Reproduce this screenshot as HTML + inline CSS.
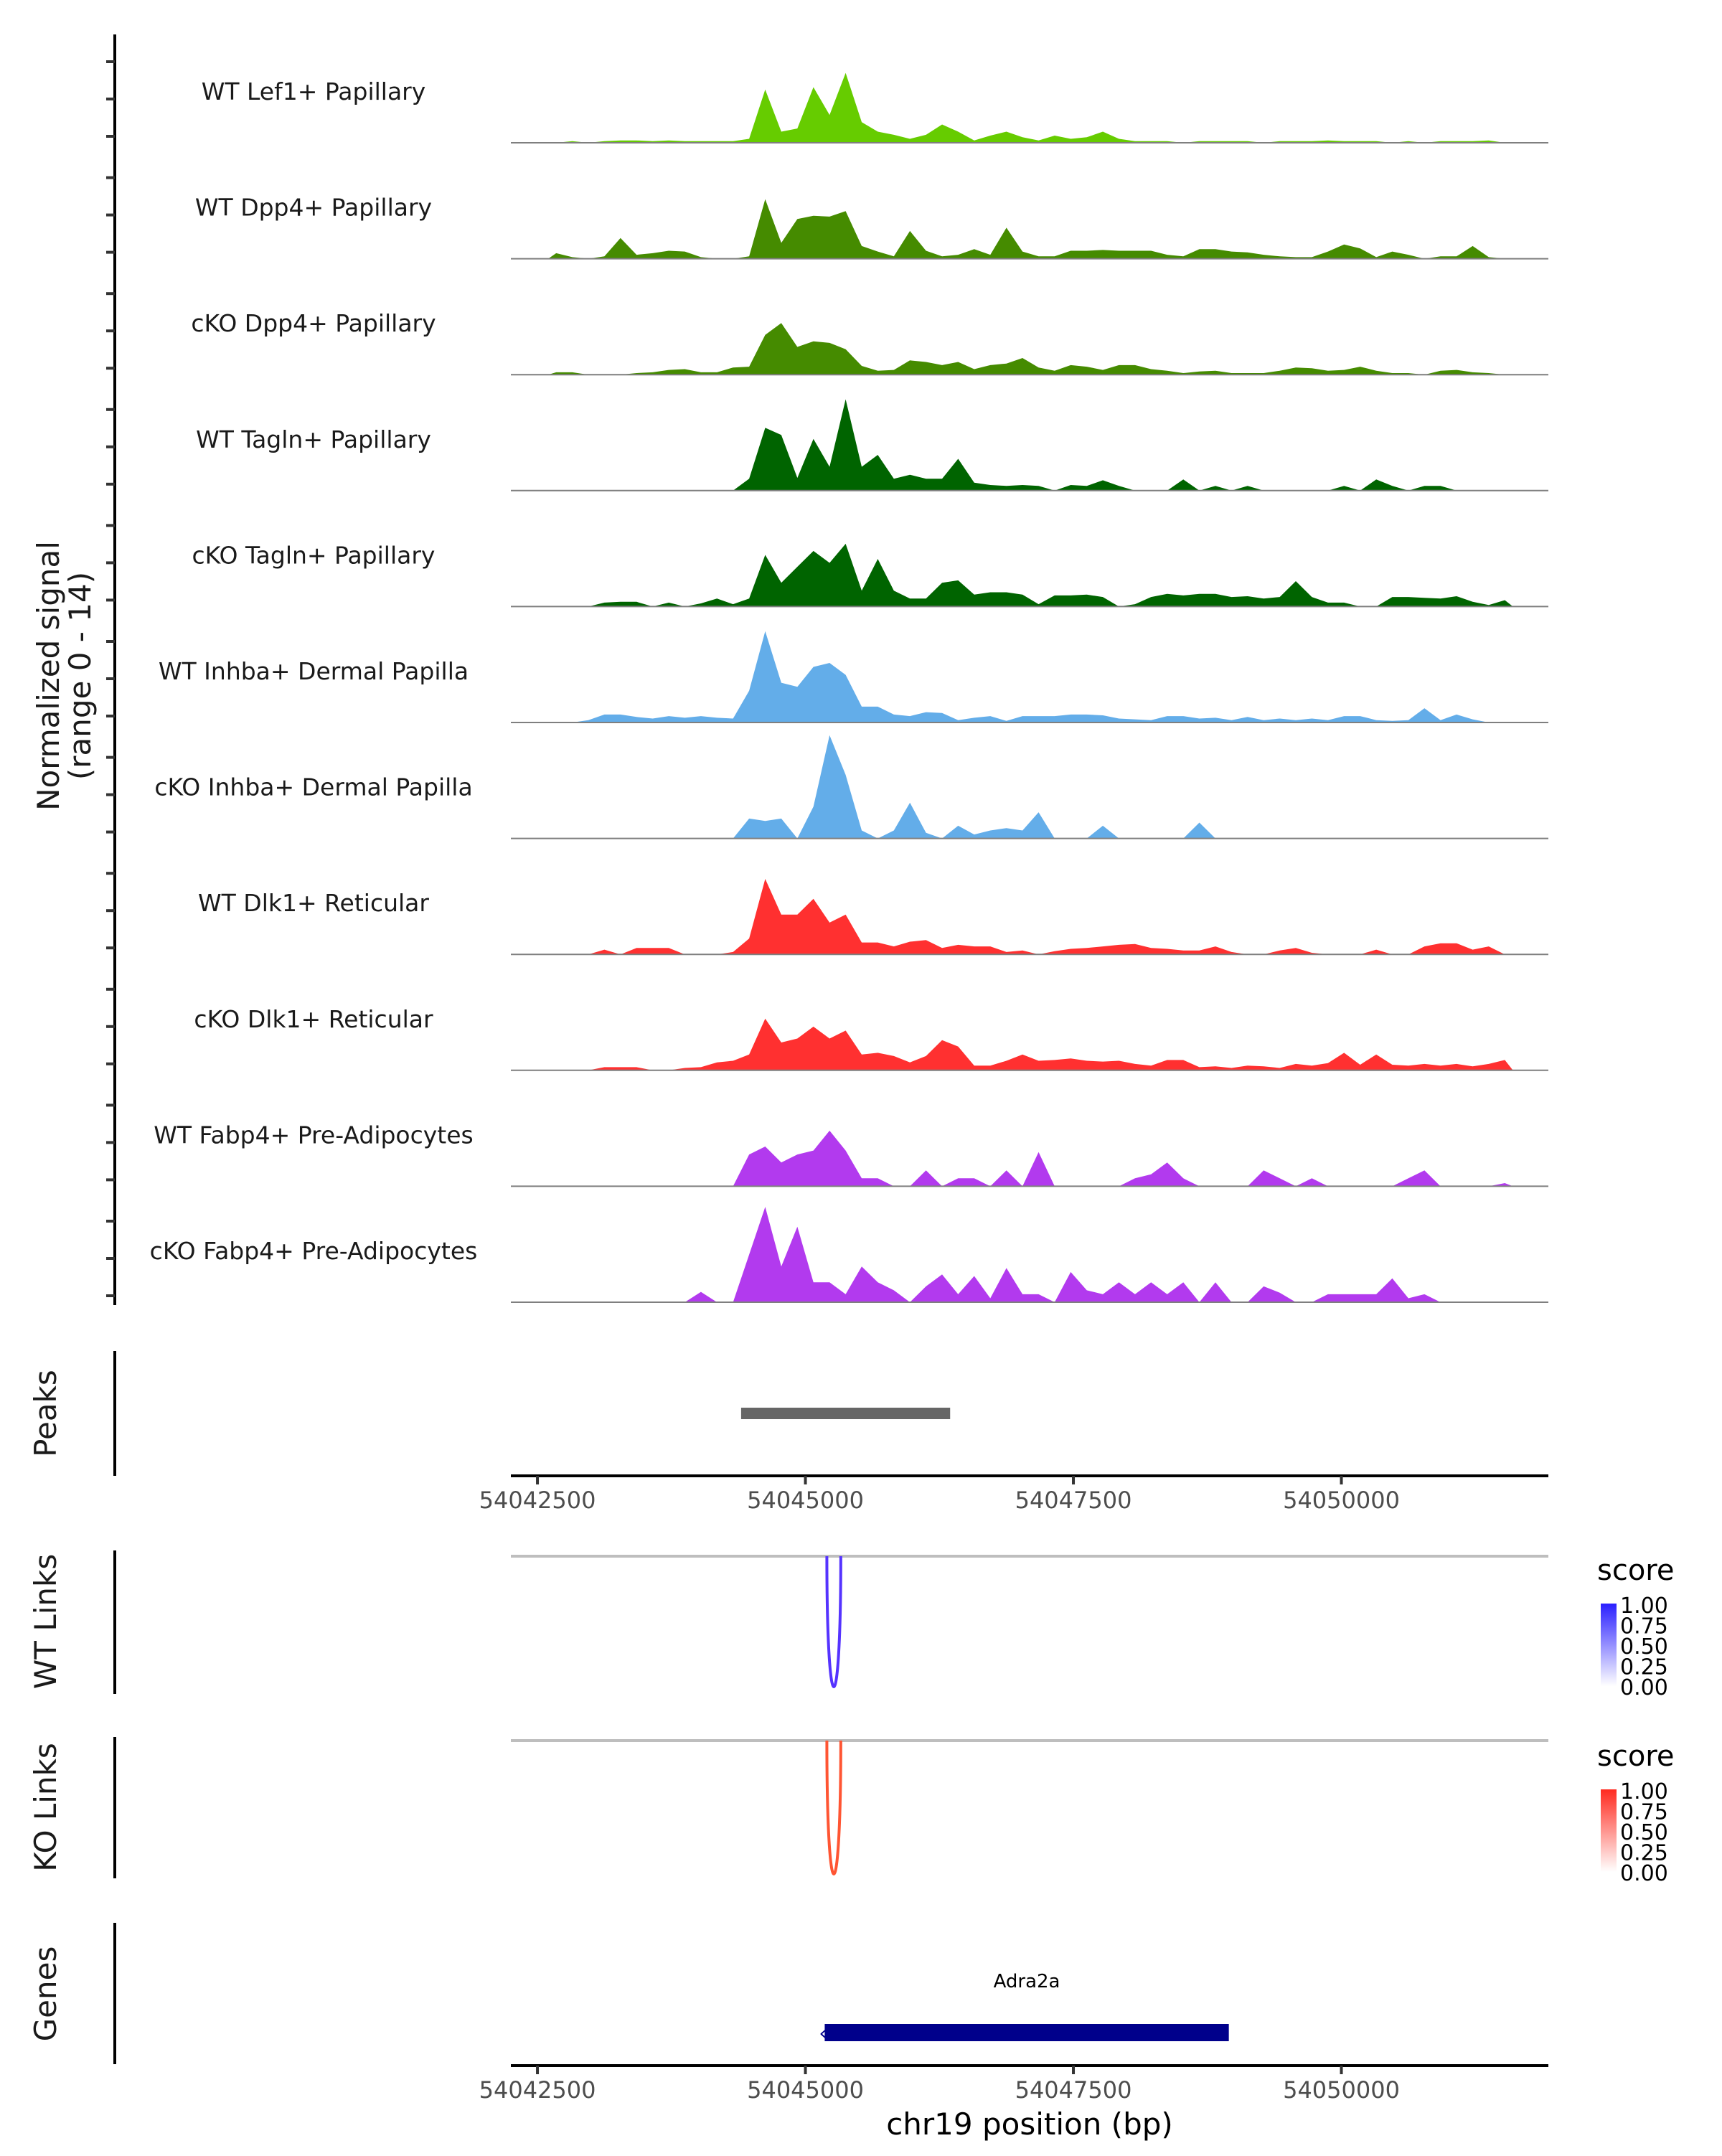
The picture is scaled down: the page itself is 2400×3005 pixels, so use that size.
<!DOCTYPE html>
<html><head><meta charset="utf-8"><style>
html,body{margin:0;padding:0;background:#fff}
svg text{font-family:"DejaVu Sans","Liberation Sans",sans-serif}
</style></head><body>
<svg id="chart" xmlns="http://www.w3.org/2000/svg" width="2400" height="3000" viewBox="0 0 2400 3000">
<rect width="2400" height="3000" fill="#fff"/>
<g id="tracks"></g>
<line x1="160" y1="48" x2="160" y2="1819" stroke="#000" stroke-width="4"/>
<g id="yticks"></g>
<text transform="translate(82,942) rotate(-90)" text-anchor="middle" font-size="42" fill="#1a1a1a">Normalized signal</text>
<text transform="translate(126,942) rotate(-90)" text-anchor="middle" font-size="42" fill="#1a1a1a">(range 0 - 14)</text>

<line x1="160" y1="1883" x2="160" y2="2057" stroke="#000" stroke-width="4"/>
<text transform="translate(78,1970) rotate(-90)" text-anchor="middle" font-size="42" fill="#1a1a1a">Peaks</text>
<g id="peaks"></g>
<g id="axis1"></g>

<line x1="160" y1="2161" x2="160" y2="2361" stroke="#000" stroke-width="4"/>
<text transform="translate(78,2260) rotate(-90)" text-anchor="middle" font-size="42" fill="#1a1a1a">WT Links</text>
<line x1="160" y1="2421" x2="160" y2="2618" stroke="#000" stroke-width="4"/>
<text transform="translate(78,2519) rotate(-90)" text-anchor="middle" font-size="42" fill="#1a1a1a">KO Links</text>
<g id="links"></g>

<defs>
<linearGradient id="gBlue" x1="0" y1="1" x2="0" y2="0"><stop offset="0" stop-color="#ffffff"/><stop offset="1" stop-color="#2a1fff"/></linearGradient>
<linearGradient id="gRed" x1="0" y1="1" x2="0" y2="0"><stop offset="0" stop-color="#ffffff"/><stop offset="1" stop-color="#ff2a1f"/></linearGradient>
</defs>
<g id="legends"></g>

<line x1="160" y1="2680" x2="160" y2="2877" stroke="#000" stroke-width="4"/>
<text transform="translate(78,2779) rotate(-90)" text-anchor="middle" font-size="42" fill="#1a1a1a">Genes</text>
<g id="genes"></g>
<g id="axis2"></g>
<text x="1435" y="2975" text-anchor="middle" font-size="42" fill="#000">chr19 position (bp)</text>
</svg>
<script>
const trackNames = ["WT Lef1+ Papillary","WT Dpp4+ Papillary","cKO Dpp4+ Papillary","WT Tagln+ Papillary","cKO Tagln+ Papillary","WT Inhba+ Dermal Papilla","cKO Inhba+ Dermal Papilla","WT Dlk1+ Reticular","cKO Dlk1+ Reticular","WT Fabp4+ Pre-Adipocytes","cKO Fabp4+ Pre-Adipocytes"];
const trackColors = ["#66cc00","#458b00","#458b00","#006400","#006400","#63ade9","#63ade9","#ff3030","#ff3030","#b23aee","#b23aee"];
const binStart = 54042600;
const binSize = 150;
const sigLef1WT = [0,0.2,0,0.2,0.3,0.3,0.2,0.3,0.2,0.2,0.2,0.2,0.5,6.7,1.4,1.8,7,3.5,8.8,2.6,1.4,1,0.5,1,2.3,1.4,0.3,0.9,1.4,0.7,0.3,0.9,0.5,0.7,1.4,0.5,0.2,0.2,0.2,0,0.2,0.2,0.2,0.2,0,0.2,0.2,0.2,0.3,0.2,0.2,0.2,0,0.2,0,0.2,0.2,0.2,0.3,0];
const sigDpp4WT = [0.7,0.2,0,0.3,2.6,0.5,0.7,1,0.9,0.2,0,0,0.3,7.5,2,5,5.4,5.3,6,1.6,0.9,0.3,3.5,1,0.3,0.5,1.2,0.5,3.9,0.9,0.3,0.3,1,1,1.1,1,1,1,0.5,0.3,1.2,1.2,0.9,0.8,0.5,0.3,0.2,0.2,0.9,1.8,1.3,0.2,0.9,0.5,0,0.3,0.3,1.6,0.2,0];
const sigDpp4KO = [0.3,0.3,0,0,0,0.2,0.3,0.6,0.7,0.3,0.3,0.9,1,5,6.5,3.5,4.2,4,3.2,1.1,0.5,0.6,1.8,1.6,1.2,1.6,0.7,1.2,1.4,2.1,0.9,0.5,1.2,1,0.6,1.2,1.2,0.7,0.5,0.2,0.4,0.5,0.2,0.2,0.2,0.5,0.9,0.8,0.5,0.6,1,0.5,0.2,0.2,0,0.5,0.6,0.3,0.2,0];
const sigTaglnWT = [0,0,0,0,0,0,0,0,0,0,0,0,1.5,7.9,7,1.6,6.5,3,11.5,3,4.5,1.5,2,1.5,1.5,4,1,0.7,0.6,0.7,0.6,0,0.7,0.6,1.3,0.6,0,0,0,1.4,0,0.6,0,0.6,0,0,0,0,0,0.6,0,1.4,0.6,0,0.6,0.6,0,0,0,0];
const sigTaglnKO = [0,0,0,0.5,0.6,0.6,0,0.5,0,0.4,1,0.3,1,6.5,3,5,7,5.5,7.9,2,6,2,1,1,3,3.3,1.5,1.8,1.8,1.5,0.3,1.4,1.4,1.5,1.2,0,0.3,1.2,1.6,1.4,1.6,1.6,1.2,1.3,1,1.2,3.2,1.2,0.5,0.5,0,0,1.2,1.2,1.1,1,1.3,0.6,0.2,0.8];
const sigInhbaWT = [0,0,0.3,1,1,0.7,0.5,0.8,0.6,0.8,0.6,0.5,4,11.5,5,4.5,7,7.5,6,2,2,1,0.8,1.3,1.2,0.3,0.6,0.8,0.2,0.8,0.8,0.8,1,1,0.9,0.5,0.4,0.3,0.8,0.8,0.5,0.6,0.3,0.7,0.3,0.5,0.3,0.5,0.3,0.8,0.8,0.3,0.2,0.3,1.8,0.3,1,0.4,0,0];
const sigInhbaKO = [0,0,0,0,0,0,0,0,0,0,0,0,2.5,2.2,2.5,0,4,13,8,1,0,1,4.5,0.7,0,1.6,0.5,1,1.3,1,3.3,0,0,0,1.6,0,0,0,0,0,2,0,0,0,0,0,0,0,0,0,0,0,0,0,0,0,0,0,0,0];
const sigDlk1WT = [0,0,0,0.6,0,0.8,0.8,0.8,0,0,0,0.3,2,9.5,5,5,7,4,5,1.5,1.5,1,1.6,1.8,0.8,1.2,1,1,0.3,0.5,0,0.4,0.7,0.8,1,1.2,1.3,0.8,0.7,0.5,0.5,1,0.3,0,0,0.5,0.8,0.2,0,0,0,0.6,0,0,1,1.4,1.4,0.6,1,0];
const sigDlk1KO = [0,0,0,0.4,0.4,0.4,0,0,0.3,0.4,1,1.2,2,6.5,3.5,4,5.5,4,5,2,2.2,1.8,1,1.8,3.8,3,0.6,0.6,1.2,2,1.2,1.3,1.5,1.2,1.1,1.2,0.8,0.6,1.3,1.3,0.4,0.5,0.3,0.6,0.5,0.3,0.8,0.6,0.9,2.2,0.7,2,0.7,0.6,0.8,0.6,0.8,0.5,0.8,1.3];
const sigFabp4WT = [0,0,0,0,0,0,0,0,0,0,0,0,4,5,3,4,4.5,7,4.5,1,1,0,0,2,0,1,1,0,2,0,4.3,0,0,0,0,0,1,1.5,3,1,0,0,0,0,2,1,0,1,0,0,0,0,0,1,2,0,0,0,0,0.4];
const sigFabp4KO = [0,0,0,0,0,0,0,0,0,1.3,0,0,6,12,4.5,9.5,2.5,2.5,1,4.5,2.5,1.5,0,2,3.5,1,3.3,0.5,4.3,1,1,0,3.8,1.5,1,2.5,1,2.5,1,2.5,0,2.5,0,0,2,1.2,0,0,1,1,1,1,3,0.5,1,0,0,0,0,0];
const signals = [sigLef1WT,sigDpp4WT,sigDpp4KO,sigTaglnWT,sigTaglnKO,sigInhbaWT,sigInhbaKO,sigDlk1WT,sigDlk1KO,sigFabp4WT,sigFabp4KO];
const xTicks = [54042500,54045000,54047500,54050000];
const peakRanges = [[54044400,54046350]];
const linkWT = [[54045200,54045330,0.8]];
const linkKO = [[54045200,54045330,0.8]];
const genes = [["Adra2a",54045180,54048950]];
const legendTicks = ["1.00","0.75","0.50","0.25","0.00"];

const NS="http://www.w3.org/2000/svg";
const X0=712, X1=2158, BP0=54042252, BP1=54051931;
const xs = bp => X0 + (bp-BP0)/(BP1-BP0)*(X1-X0);
const YMAX=14, TRACK_H=155;
const baseY = i => 199 + i*161.6;
const ys = (i,v) => baseY(i) - v/YMAX*TRACK_H;
function mk(tag, attrs, parent){const e=document.createElementNS(NS,tag);for(const k in attrs)e.setAttribute(k,attrs[k]);parent.appendChild(e);return e;}

const tracks=document.getElementById('tracks');
const yt=document.getElementById('yticks');
signals.forEach((arr,i)=>{
  const g=mk('g',{},tracks);
  
  
  const b=baseY(i);
  let pts=[[xs(binStart),b]];
  arr.forEach((v,j)=>{pts.push([xs(binStart+binSize*j+binSize/2),ys(i,v)]);});
  pts.push([xs(binStart+binSize*arr.length),b]);
  const p=mk('polygon',{points:pts.map(p=>p[0].toFixed(1)+','+p[1].toFixed(1)).join(' '),fill:trackColors[i]},g);
  
  
  const bl=mk('line',{x1:X0,x2:X1,y1:b,y2:b,stroke:'#7f7f7f','stroke-width':2},g);
  
  
  const t=mk('text',{x:437,y:b-60,'text-anchor':'middle','font-size':33,fill:'#1a1a1a'},g);
  t.textContent=trackNames[i];
  
  
  [9,61,113].forEach(o=>{
    const tk=mk('line',{x1:148,x2:160,y1:b-o,y2:b-o,stroke:'#333','stroke-width':4},yt);
    
    
  });
});

const peaks=document.getElementById('peaks');
peakRanges.forEach(r=>{
  const rc=mk('rect',{x:xs(r[0]),y:1962,width:xs(r[1])-xs(r[0]),height:16,fill:'#666666'},peaks);
  
  
});

function axis(id,y){
  const g=document.getElementById(id);
  const l=mk('line',{x1:X0,x2:X1,y1:y,y2:y,stroke:'#000',"stroke-width":4},g);
  
  
  xTicks.forEach(t=>{
    const tk=mk('line',{x1:xs(t),x2:xs(t),y1:y,y2:y+12,stroke:'#333','stroke-width':4},g);
    
    
    const tx=mk('text',{x:xs(t),y:y+45,'text-anchor':'middle','font-size':32,fill:'#4d4d4d'},g);
    tx.textContent=t;
    
    
  });
}
axis('axis1',2057);
axis('axis2',2879);

const links=document.getElementById('links');
function drawLinks(arr,top,bottom,color){
  const gl=mk('line',{x1:X0,x2:X1,y1:top,y2:top,stroke:'#bebebe','stroke-width':4},links);
  
  
  arr.forEach(l=>{
    const a=xs(l[0]),c=xs(l[1]),m=(a+c)/2,d=(bottom-top)/0.75;
    const p=mk('path',{d:`M${a},${top} C${a},${top+d} ${c},${top+d} ${c},${top}`,fill:'none',stroke:color,'stroke-width':4},links);
    
    
  });
}
drawLinks(linkWT,2169,2351,'#5533ff');
drawLinks(linkKO,2426,2612,'#ff5533');

const lg=document.getElementById('legends');
[[2190,'url(#gBlue)'],[2449,'url(#gRed)']].forEach((L,k)=>{
  const g=mk('g',{},lg);
  
  
  const t=mk('text',{x:2226,y:L[0]+12,'font-size':40,fill:'#000'},g);
  t.textContent='score';
  
  
  const top=L[0]+45;
  const r=mk('rect',{x:2231,y:top,width:22,height:115,fill:L[1]},g);
  
  
  legendTicks.forEach((s,j)=>{
    const yy=top+2+j*28.5;
    const tx=mk('text',{x:2258,y:yy+11,'font-size':30,fill:'#000'},g);
    tx.textContent=s;
    
    
  });
});

const gg=document.getElementById('genes');
genes.forEach(gn=>{
  const a=xs(gn[1]),b=xs(gn[2]);
  const r=mk('rect',{x:a,y:2821,width:b-a,height:24,fill:'#00008b'},gg);
  
  
  const ar=mk('text',{x:a-8,y:2843,'font-size':28,fill:'#00008b'},gg);
  ar.textContent='‹';
  
  
  const t=mk('text',{x:(a+b)/2,y:2770,'text-anchor':'middle','font-size':26,fill:'#000'},gg);
  t.textContent=gn[0];
  
  
});
</script>
</body></html>
